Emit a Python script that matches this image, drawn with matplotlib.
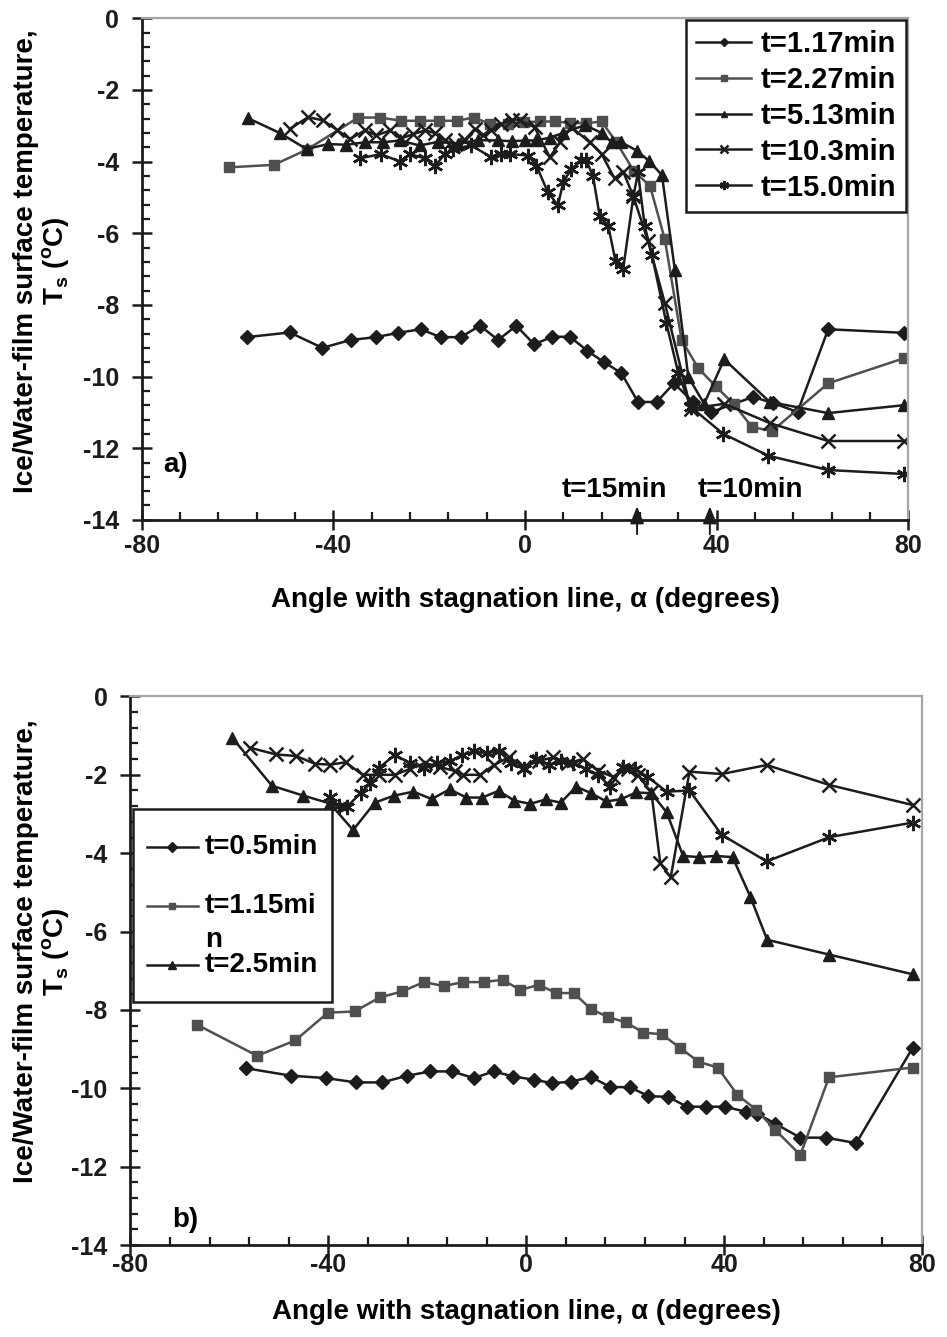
import matplotlib
matplotlib.use("Agg")
import matplotlib.pyplot as plt
from matplotlib.ticker import MultipleLocator
from matplotlib.lines import Line2D
from matplotlib.patches import Rectangle

plt.rcParams['font.family'] = ['Liberation Sans', 'DejaVu Sans']
plt.rcParams['font.weight'] = 'bold'
plt.rcParams['axes.unicode_minus'] = False

# ---------------- Panel a data ----------------
a_labels = ["t=1.17min", "t=2.27min", "t=5.13min", "t=10.3min", "t=15.0min"]

a117_x = [-58.1, -49.1, -42.3, -36.4, -31.1, -26.5, -21.8, -17.6, -13.4, -9.4, -5.6, -1.8,
          1.9, 5.7, 9.4, 13.0, 16.5, 20.1, 23.6, 27.5, 31.1, 35.1, 38.9, 47.6, 51.8, 56.9, 63.3, 79.1]
a117_y = [-8.90, -8.77, -9.20, -8.98, -8.90, -8.78, -8.68, -8.90, -8.90, -8.58, -8.98, -8.58,
          -9.10, -8.89, -8.89, -9.28, -9.60, -9.90, -10.71, -10.71, -10.19, -10.71, -10.99, -10.57,
          -10.74, -10.99, -8.68, -8.78]

a227_x = [-61.8, -52.4, -45.6, -34.8, -30.2, -25.9, -21.9, -18.0, -14.2, -10.7, -7.2, -3.6, -0.3,
          3.1, 6.2, 9.4, 12.8, 16.0, 19.1, 22.7, 26.1, 29.2, 32.7, 36.2, 39.8, 43.6, 47.4, 51.6, 63.3, 79.1]
a227_y = [-4.16, -4.09, -3.67, -2.77, -2.77, -2.86, -2.86, -2.86, -2.86, -2.77, -2.95, -2.95, -2.90,
          -2.88, -2.88, -2.92, -2.93, -2.88, -3.46, -4.26, -4.68, -6.17, -8.98, -9.77, -10.27, -10.77,
          -11.41, -11.52, -10.19, -9.49]

a513_x = [-57.8, -51.2, -45.6, -41.1, -37.3, -33.4, -29.6, -26.1, -22.0, -18.2, -14.0, -9.8, -5.6,
          -2.8, 0.0, 2.4, 5.2, 8.0, 12.5, 16.0, 18.1, 20.1, 23.3, 25.9, 28.6, 31.3, 34.1, 37.4, 41.6,
          51.1, 63.3, 79.1]
a513_y = [-2.79, -3.20, -3.65, -3.51, -3.53, -3.46, -3.46, -3.41, -3.55, -3.45, -3.50, -3.40, -3.41,
          -3.43, -3.41, -3.41, -3.33, -3.20, -2.98, -3.20, -3.46, -3.46, -3.69, -3.98, -4.38, -7.03,
          -10.01, -10.76, -9.52, -10.71, -11.02, -10.80]

a103_x = [-49.1, -45.3, -42.1, -39.3, -36.6, -33.4, -31.0, -28.2, -25.8, -23.3, -20.9, -18.8, -16.7,
          -14.7, -12.6, -10.5, -8.7, -7.0, -4.9, -2.8, -1.1, 2.0, 5.2, 7.3, 9.7, 13.5, 16.0, 18.7,
          20.5, 22.6, 25.7, 29.2, 34.6, 41.6, 51.1, 63.3, 79.1]
a103_y = [-3.09, -2.76, -2.85, -3.11, -3.37, -3.13, -3.27, -3.13, -3.35, -3.23, -3.13, -3.20, -3.41,
          -3.51, -3.40, -3.09, -3.25, -3.13, -2.95, -2.83, -2.85, -3.04, -3.88, -3.46, -3.04, -3.46,
          -3.79, -4.47, -4.28, -4.96, -6.22, -7.95, -10.90, -10.76, -11.30, -11.80, -11.80]

a150_x = [-34.5, -30.1, -26.1, -24.0, -20.9, -18.8, -16.7, -15.0, -11.2, -7.0, -4.9, -3.2, 0.7, 2.4,
          4.8, 6.9, 8.0, 9.7, 11.8, 12.8, 14.2, 15.6, 17.4, 18.9, 20.5, 22.6, 23.6, 25.0, 26.5, 29.5,
          32.0, 34.6, 41.4, 50.8, 63.3, 79.1]
a150_y = [-3.91, -3.79, -4.00, -3.79, -3.91, -4.12, -3.79, -3.65, -3.55, -3.88, -3.79, -3.79, -3.83,
          -4.12, -4.86, -5.22, -4.56, -4.21, -3.96, -3.96, -4.40, -5.52, -5.80, -6.78, -7.00, -5.00,
          -4.30, -5.80, -6.60, -8.50, -9.90, -10.85, -11.60, -12.21, -12.61, -12.72]

# ---------------- Panel b data ----------------
b_labels = ["t=0.5min", "t=1.15mi", "t=2.5min"]

b05_x = [-56.6, -47.5, -40.4, -34.5, -29.1, -24.1, -19.4, -15.0, -10.6, -6.6, -2.6, 1.5, 5.3, 9.1,
         13.1, 17.0, 20.9, 24.7, 28.7, 32.5, 36.4, 40.2, 44.4, 46.7, 50.3, 55.4, 60.6, 66.7, 78.1]
b05_y = [-9.49, -9.68, -9.74, -9.85, -9.85, -9.68, -9.57, -9.57, -9.74, -9.57, -9.70, -9.78, -9.87,
         -9.83, -9.71, -9.97, -9.97, -10.20, -10.22, -10.47, -10.47, -10.47, -10.60, -10.65, -10.90,
         -11.26, -11.26, -11.40, -8.97]

b115_x = [-66.5, -54.4, -46.7, -40.1, -34.7, -29.6, -25.1, -20.7, -16.7, -12.7, -8.6, -4.8, -1.2, 2.5,
          6.1, 9.6, 13.1, 16.5, 20.2, 23.7, 27.4, 31.1, 34.8, 38.7, 42.7, 46.5, 50.3, 55.4, 61.2, 78.1]
b115_y = [-8.38, -9.17, -8.78, -8.07, -8.04, -7.68, -7.53, -7.29, -7.39, -7.29, -7.29, -7.23, -7.49,
          -7.36, -7.57, -7.57, -7.98, -8.18, -8.32, -8.58, -8.62, -8.97, -9.32, -9.47, -10.17, -10.55,
          -11.06, -11.70, -9.72, -9.47]

b25_x = [-59.4, -51.4, -45.1, -39.7, -35.0, -30.6, -26.7, -22.8, -19.1, -15.5, -12.1, -8.9, -5.6, -2.4,
         0.8, 3.9, 7.0, 10.1, 13.1, 16.2, 19.2, 22.2, 25.3, 28.4, 31.7, 34.9, 38.3, 41.7, 45.3, 48.7,
         61.3, 78.1]
b25_y = [-1.06, -2.28, -2.53, -2.73, -3.41, -2.71, -2.53, -2.43, -2.62, -2.37, -2.58, -2.58, -2.41,
         -2.66, -2.74, -2.63, -2.71, -2.30, -2.47, -2.68, -2.62, -2.45, -2.47, -2.96, -4.07, -4.10,
         -4.07, -4.10, -5.11, -6.21, -6.59, -7.09]

bx_x = [-55.8, -50.6, -46.5, -42.7, -39.6, -36.5, -33.1, -29.8, -26.6, -23.5, -20.5, -17.5, -14.5,
        -12.7, -9.3, -6.5, -3.5, -0.5, 2.5, 5.5, 8.5, 11.5, 14.5, 17.5, 20.5, 22.5, 25.3, 27.1, 29.2,
        33.0, 39.5, 48.6, 61.3, 78.1]
bx_y = [-1.31, -1.48, -1.52, -1.72, -1.74, -1.68, -2.00, -2.00, -2.00, -1.85, -1.70, -1.80, -1.90,
        -2.00, -2.00, -1.75, -1.55, -1.80, -1.65, -1.55, -1.70, -1.60, -1.90, -2.05, -1.85, -2.00,
        -2.45, -4.26, -4.62, -1.92, -1.98, -1.75, -2.26, -2.77]

bs_x = [-39.7, -37.9, -36.2, -33.5, -31.5, -29.8, -26.6, -23.5, -20.7, -18.0, -15.5, -13.0, -10.5,
        -8.0, -5.5, -3.0, -0.5, 2.0, 4.5, 7.0, 9.5, 12.0, 14.5, 17.0, 19.5, 22.0, 24.5, 28.4, 33.0,
        39.5, 48.6, 61.3, 78.1]
bs_y = [-2.56, -2.79, -2.81, -2.47, -2.21, -1.83, -1.49, -1.70, -1.83, -1.70, -1.66, -1.50, -1.40,
        -1.45, -1.40, -1.70, -1.85, -1.60, -1.75, -1.65, -1.70, -1.85, -2.00, -2.30, -1.80, -1.85,
        -2.05, -2.43, -2.40, -3.53, -4.21, -3.59, -3.22]

x_ticks = [-80, -40, 0, 40, 80]
y_ticks = [0, -2, -4, -6, -8, -10, -12, -14]

BLACK = '#1c1c1c'
GRAY = '#4f4f4f'
LW = 1.8
ASTER = (6, 2, 0)

fig = plt.figure(figsize=(9.47, 13.37), dpi=100)
axA = fig.add_axes([0.1497, 0.6112, 0.8093, 0.3751])
axB = fig.add_axes([0.1378, 0.0688, 0.8358, 0.4103])

ylabel = "Ice/Water-film surface temperature,\n" + r"T$_\mathregular{s}$ ($^\mathregular{o}$C)"
xlabel = "Angle with stagnation line, \u03b1 (degrees)"


def style(ax, xpad):
    ax.set_xlim(-80, 80)
    ax.set_ylim(-14, 0)
    ax.set_xticks(x_ticks)
    ax.set_yticks(y_ticks)
    ax.xaxis.set_minor_locator(MultipleLocator(8))
    ax.yaxis.set_minor_locator(MultipleLocator(0.4))
    ax.tick_params(which='major', direction='inout', length=15, width=1.8, labelsize=18,
                   colors=BLACK)
    ax.tick_params(axis='y', which='major', pad=9)
    ax.tick_params(axis='x', which='major', pad=xpad)
    ax.tick_params(which='minor', direction='in', length=6, width=1.6, colors=BLACK)
    for s in ['left', 'bottom']:
        ax.spines[s].set_linewidth(2.0)
        ax.spines[s].set_color(BLACK)
    for s in ['top', 'right']:
        ax.spines[s].set_linewidth(1.6)
        ax.spines[s].set_color('#a5a5a5')
    ax.set_ylabel(ylabel, fontsize=20, fontweight='bold', linespacing=1.05)
    ax.set_xlabel(xlabel, fontsize=20, fontweight='bold')


# ---------------- Panel a ----------------
axA.plot(a117_x, a117_y, color=BLACK, lw=LW, marker='D', ms=7, label=a_labels[0])
axA.plot(a227_x, a227_y, color=GRAY, lw=LW, marker='s', ms=7.5, label=a_labels[1])
axA.plot(a513_x, a513_y, color=BLACK, lw=LW, marker='^', ms=8, label=a_labels[2])
axA.plot(a103_x, a103_y, color=BLACK, lw=LW, marker='x', ms=10, mew=1.8, label=a_labels[3])
axA.plot(a150_x, a150_y, color=BLACK, lw=LW, marker=ASTER, ms=11, mew=1.8, label=a_labels[4])
style(axA, 3)
axA.yaxis.set_label_coords(-0.091, 0.516)
axA.xaxis.set_label_coords(0.5, -0.133)

legA = axA.legend(loc='upper right', bbox_to_anchor=(0.997, 0.997), borderaxespad=0.0,
                  fontsize=21, frameon=True, fancybox=False, edgecolor=BLACK, framealpha=1,
                  handlelength=1.9, handletextpad=0.3, labelspacing=0.27, borderpad=0.35,
                  markerscale=0.6)
legA.get_frame().set_linewidth(1.8)

axA.text(-73.0, -12.47, "a)", fontsize=20, fontweight='bold', ha='center', va='center')
axA.text(18.6, -13.17, "t=15min", fontsize=20, fontweight='bold', ha='center', va='center')
axA.text(47.0, -13.17, "t=10min", fontsize=20, fontweight='bold', ha='center', va='center')
for xa in [23.4, 38.6]:
    axA.annotate("", xy=(xa, -13.62), xytext=(xa, -14.4), annotation_clip=False, zorder=8,
                 arrowprops=dict(arrowstyle='-|>,head_length=0.7,head_width=0.28',
                                 color=BLACK, lw=1.4, mutation_scale=15,
                                 shrinkA=0, shrinkB=0))

# ---------------- Panel b ----------------
axB.plot(b05_x, b05_y, color=BLACK, lw=LW, marker='D', ms=7)
axB.plot(b115_x, b115_y, color=GRAY, lw=LW, marker='s', ms=7.5)
axB.plot(b25_x, b25_y, color=BLACK, lw=LW, marker='^', ms=8)
axB.plot(bx_x, bx_y, color=BLACK, lw=LW, marker='x', ms=10, mew=1.8)
axB.plot(bs_x, bs_y, color=BLACK, lw=LW, marker=ASTER, ms=11, mew=1.8)
style(axB, -2)
axB.yaxis.set_label_coords(-0.074, 0.535)
axB.xaxis.set_label_coords(0.5, -0.098)
axB.text(-68.9, -13.35, "b)", fontsize=20, fontweight='bold', ha='center', va='center')

# manual legend for panel b (label wraps as in the original)
T = axB.transAxes
axB.add_patch(Rectangle((0.003, 0.443), 0.2515, 0.3518, transform=T, facecolor='white',
                        edgecolor=BLACK, lw=1.8, zorder=5))
leg_rows = [(0.7256, 'D', BLACK, 5), (0.618, 's', GRAY, 5), (0.5105, '^', BLACK, 6)]
for (yy, mk, col, ms), lab in zip(leg_rows, b_labels):
    axB.add_line(Line2D([0.0208, 0.0853], [yy, yy], transform=T, color=col, lw=LW, zorder=6))
    axB.add_line(Line2D([0.0530], [yy], transform=T, color=col, marker=mk, ms=ms, zorder=6))
    axB.text(0.094, yy, lab, transform=T, fontsize=20, fontweight='bold', ha='left',
             va='center', zorder=7)
axB.text(0.094, 0.5560, "n", transform=T, fontsize=20, fontweight='bold', ha='left',
         va='center', zorder=7)

fig.savefig("out.png", dpi=100)
